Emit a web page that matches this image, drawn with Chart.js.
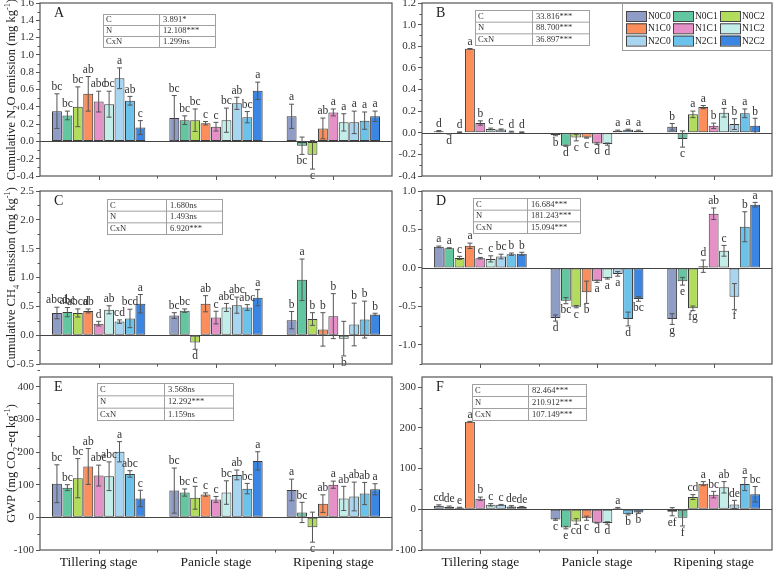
<!DOCTYPE html>
<html lang="en">
<head>
<meta charset="UTF-8">
<title>Cumulative N2O, CH4 emission and GWP</title>
<script src="https://cdn.jsdelivr.net/npm/chart.js"></script>
<style>
  body { margin: 0; background: #fff; }
  #wrap { position: relative; width: 774px; height: 569px; overflow: hidden; }
  #wrap canvas { position: absolute; }
</style>
</head>
<body>
<div id="wrap">
  <canvas id="cA"></canvas>
  <canvas id="cB"></canvas>
  <canvas id="cC"></canvas>
  <canvas id="cD"></canvas>
  <canvas id="cE"></canvas>
  <canvas id="cF"></canvas>
</div>
<script>
// ---- data (rows = stage, columns = treatment) ----
const stages = ['Tillering stage', 'Panicle stage', 'Ripening stage'];
const treatments = ['N0C0', 'N0C1', 'N0C2', 'N1C0', 'N1C1', 'N1C2', 'N2C0', 'N2C1', 'N2C2'];
const statRows = ['C', 'N', 'CxN'];

// A - cumulative N2O emission
const n2oA = [
  [0.35, 0.30, 0.40, 0.55, 0.46, 0.43, 0.73, 0.47, 0.16],
  [0.27, 0.245, 0.245, 0.21, 0.17, 0.245, 0.44, 0.28, 0.585],
  [0.29, -0.05, -0.155, 0.15, 0.335, 0.22, 0.22, 0.24, 0.29]
];
const n2oAErr = [
  [0.20, 0.05, 0.23, 0.20, 0.12, 0.15, 0.12, 0.05, 0.08],
  [0.26, 0.05, 0.13, 0.02, 0.05, 0.14, 0.07, 0.065, 0.10],
  [0.14, 0.10, 0.165, 0.12, 0.04, 0.10, 0.13, 0.10, 0.06]
];
const n2oALetters = [
  ['bc', 'bc', 'bc', 'ab', 'abc', 'bc', 'a', 'ab', 'c'],
  ['bc', 'bc', 'bc', 'c', 'c', 'bc', 'ab', 'bc', 'a'],
  ['a', 'bc', 'c', 'ab', 'a', 'a', 'a', 'a', 'a']
];
const n2oAStats = ['3.891*', '12.108***', '1.299ns'];
const n2oATicks = [-0.4, -0.2, 0, 0.2, 0.4, 0.6, 0.8, 1.0, 1.2, 1.4, 1.6];

// B - cumulative N2O emission
const n2oB = [
  [0.015, -0.01, 0.005, 0.776, 0.09, 0.035, 0.03, 0.01, 0.005],
  [-0.02, -0.12, -0.045, -0.045, -0.10, -0.105, 0.018, 0.027, 0.018],
  [0.055, -0.058, 0.17, 0.237, 0.064, 0.185, 0.08, 0.18, 0.064]
];
const n2oBErr = [
  [0.005, 0.003, 0.003, 0.003, 0.02, 0.008, 0.005, 0.004, 0.003],
  [0.008, 0.005, 0.03, 0.005, 0.008, 0.01, 0.006, 0.006, 0.006],
  [0.03, 0.075, 0.03, 0.015, 0.025, 0.04, 0.05, 0.04, 0.07]
];
const n2oBLetters = [
  ['d', 'd', 'd', 'a', 'b', 'c', 'c', 'd', 'd'],
  ['b', 'd', 'c', 'c', 'd', 'd', 'a', 'a', 'a'],
  ['b', 'c', 'a', 'a', 'b', 'a', 'b', 'a', 'b']
];
const n2oBStats = ['33.816***', '88.700***', '36.897***'];
const n2oBTicks = [-0.4, -0.2, 0, 0.2, 0.4, 0.6, 0.8, 1.0, 1.2];

// C - cumulative CH4 emission
const ch4C = [
  [0.385, 0.40, 0.385, 0.42, 0.20, 0.44, 0.235, 0.29, 0.545],
  [0.34, 0.425, -0.125, 0.545, 0.305, 0.48, 0.52, 0.48, 0.65],
  [0.26, 0.96, 0.28, 0.10, 0.33, -0.06, 0.185, 0.27, 0.36]
];
const ch4CErr = [
  [0.10, 0.08, 0.07, 0.035, 0.04, 0.07, 0.03, 0.16, 0.16],
  [0.05, 0.03, 0.12, 0.14, 0.11, 0.07, 0.14, 0.05, 0.14],
  [0.15, 0.36, 0.11, 0.29, 0.39, 0.30, 0.37, 0.32, 0.02]
];
const ch4CLetters = [
  ['abcd', 'abc', 'abcd', 'ab', 'd', 'ab', 'cd', 'bcd', 'a'],
  ['bc', 'bc', 'd', 'ab', 'c', 'abc', 'abc', 'abc', 'a'],
  ['b', 'a', 'b', 'b', 'b', 'b', 'b', 'b', 'b']
];
const ch4CStats = ['1.680ns', '1.493ns', '6.920***'];
const ch4CTicks = [-0.5, 0, 0.5, 1.0, 1.5, 2.0, 2.5];

// D - cumulative CH4 emission
const ch4D = [
  [0.274, 0.257, 0.13, 0.287, 0.126, 0.117, 0.148, 0.178, 0.183],
  [-0.652, -0.426, -0.504, -0.317, -0.174, -0.135, -0.078, -0.665, -0.404],
  [-0.665, -0.174, -0.526, 0.022, 0.704, 0.222, -0.374, 0.535, 0.822]
];
const ch4DErr = [
  [0.01, 0.005, 0.02, 0.035, 0.01, 0.04, 0.03, 0.015, 0.02],
  [0.04, 0.04, 0.015, 0.145, 0.015, 0.01, 0.03, 0.09, 0.03],
  [0.07, 0.05, 0.03, 0.08, 0.075, 0.07, 0.17, 0.195, 0.03]
];
const ch4DLetters = [
  ['a', 'a', 'c', 'a', 'c', 'c', 'bc', 'b', 'b'],
  ['d', 'bc', 'c', 'b', 'a', 'a', 'a', 'd', 'bc'],
  ['g', 'e', 'fg', 'd', 'ab', 'c', 'f', 'b', 'a']
];
const ch4DStats = ['16.684***', '181.243***', '15.094***'];
const ch4DTicks = [-1.0, -0.5, 0, 0.5, 1.0];

// E - GWP
const gwpE = [
  [103, 91, 120, 156, 128, 126, 201, 133, 58],
  [82, 76, 60, 70, 55, 76, 130, 88, 173],
  [84, 15, -30, 42, 100, 58, 64, 73, 86]
];
const gwpEErr = [
  [58, 9, 60, 55, 32, 44, 31, 10, 25],
  [69, 11, 35, 5, 9, 36, 15, 16, 28],
  [33, 31, 46, 27, 11, 37, 44, 34, 17]
];
const gwpELetters = [
  ['bc', 'bc', 'bc', 'ab', 'abc', 'abc', 'a', 'abc', 'c'],
  ['bc', 'bc', 'c', 'c', 'c', 'bc', 'ab', 'bc', 'a'],
  ['a', 'bc', 'c', 'ab', 'a', 'ab', 'ab', 'ab', 'a']
];
const gwpEStats = ['3.568ns', '12.292***', '1.159ns'];
const gwpETicks = [-100, 0, 100, 200, 300, 400];

// F - GWP
const gwpF = [
  [9, 6, 4, 215, 26, 11, 11, 7, 6],
  [-25, -45, -30, -22, -33, -33.6, 2.5, -12, -8],
  [-6, -21, 30, 63, 36, 54, 12, 62, 37]
];
const gwpFErr = [
  [2, 2, 1, 1, 4, 3, 1, 2, 1],
  [2, 3, 7, 5, 1, 3, 2, 2, 2],
  [10, 20, 6, 5, 8, 14, 10, 16, 19]
];
const gwpFLetters = [
  ['cd', 'de', 'e', 'a', 'b', 'c', 'c', 'de', 'de'],
  ['c', 'e', 'cd', 'c', 'd', 'd', 'a', 'b', 'b'],
  ['ef', 'f', 'cd', 'a', 'bc', 'ab', 'de', 'a', 'bc']
];
const gwpFStats = ['82.464***', '210.912***', '107.149***'];
const gwpFTicks = [-100, 0, 100, 200, 300];

// ---- styling ----
const SERIF = '"Liberation Serif", "Times New Roman", serif';
const colors = ['#8E9CC6', '#62C6A0', '#B2DC5B', '#FB8E5B', '#E591C8', '#C3EDE9', '#A8D5F0', '#6BC3EC', '#3B86E3'];

const titleN2O = [['Cumulative N', 0], ['2', -1], ['O emission (mg kg', 0], ['-1', 1], [')', 0]];
const titleCH4 = [['Cumulative CH', 0], ['4', -1], [' emission (mg kg', 0], ['-1', 1], [')', 0]];
const titleGWP = [['GWP (mg CO', 0], ['2', -1], ['-eq kg', 0], ['-1', 1], [')', 0]];

// canvas: [left, top, w, h]   area: [left, top, right, bottom] (page px)
const panels = [
  { id: 'cA', tag: 'A', vals: n2oA, errs: n2oAErr, lets: n2oALetters, stats: n2oAStats, ticks: n2oATicks,
    min: -0.4, max: 1.6, minor: 0.1, dec: 1, canvas: [0, 0, 395, 182], area: [40, 3, 392, 176],
    table: [103, 14, 112, 33, 56], title: titleN2O },
  { id: 'cB', tag: 'B', vals: n2oB, errs: n2oBErr, lets: n2oBLetters, stats: n2oBStats, ticks: n2oBTicks,
    min: -0.4, max: 1.2, minor: 0.1, dec: 1, canvas: [394, 0, 380, 182], area: [422, 3, 772, 176],
    table: [475, 10, 114, 35, 57], legend: true },
  { id: 'cC', tag: 'C', vals: ch4C, errs: ch4CErr, lets: ch4CLetters, stats: ch4CStats, ticks: ch4CTicks,
    min: -0.5, max: 2.5, minor: 0.25, dec: 1, canvas: [0, 180, 395, 200], area: [40, 191, 392, 364],
    table: [107, 199, 115, 35, 59], title: titleCH4 },
  { id: 'cD', tag: 'D', vals: ch4D, errs: ch4DErr, lets: ch4DLetters, stats: ch4DStats, ticks: ch4DTicks,
    min: -1.25, max: 1.0, minor: 0.25, dec: 1, canvas: [394, 180, 380, 200], area: [422, 191, 772, 364],
    table: [473, 198, 107, 35, 54] },
  { id: 'cE', tag: 'E', vals: gwpE, errs: gwpEErr, lets: gwpELetters, stats: gwpEStats, ticks: gwpETicks,
    min: -100, max: 430, minor: 50, dec: 0, canvas: [0, 368, 395, 201], area: [40, 377, 392, 550],
    table: [97, 383, 136, 37, 67], title: titleGWP, xLabels: true },
  { id: 'cF', tag: 'F', vals: gwpF, errs: gwpFErr, lets: gwpFLetters, stats: gwpFStats, ticks: gwpFTicks,
    min: -100, max: 325, minor: 50, dec: 0, canvas: [394, 368, 380, 201], area: [422, 377, 772, 550],
    table: [472, 384, 114, 36, 56], xLabels: true }
];

function line(ctx, x1, y1, x2, y2) {
  ctx.beginPath(); ctx.moveTo(x1, y1); ctx.lineTo(x2, y2); ctx.stroke();
}

function drawTitle(ctx, segs, cx, cy, size) {
  const big = size + 'px ' + SERIF, small = (size * 0.68).toFixed(1) + 'px ' + SERIF;
  ctx.save();
  ctx.translate(cx, cy);
  ctx.rotate(-Math.PI / 2);
  let total = 0;
  segs.forEach(s => { ctx.font = s[1] ? small : big; total += ctx.measureText(s[0]).width; });
  let px = -total / 2;
  ctx.textAlign = 'left';
  ctx.textBaseline = 'alphabetic';
  ctx.fillStyle = '#222';
  segs.forEach(s => {
    ctx.font = s[1] ? small : big;
    const dy = s[1] === -1 ? size * 0.25 : (s[1] === 1 ? -size * 0.42 : 0);
    ctx.fillText(s[0], px, size * 0.35 + dy);
    px += ctx.measureText(s[0]).width;
  });
  ctx.restore();
}

// error bars, letters, frame, minor ticks, inset table, legend
const deco = {
  id: 'deco',
  afterDatasetsDraw(chart, args, o) {
    const ctx = chart.ctx, a = chart.chartArea, y = chart.scales.y;
    ctx.save();
    ctx.strokeStyle = '#444';
    ctx.lineWidth = 1;
    const zy = Math.round(y.getPixelForValue(0)) + 0.5;
    line(ctx, a.left, zy, a.right, zy);

    ctx.font = '11.5px ' + SERIF;
    ctx.textAlign = 'center';
    chart.data.datasets.forEach((ds, i) => {
      chart.getDatasetMeta(i).data.forEach((bar, j) => {
        const v = ds.data[j], e = ds.errors[j];
        const top = y.getPixelForValue(v + e), bot = y.getPixelForValue(v - e);
        ctx.strokeStyle = '#555';
        line(ctx, bar.x, top, bar.x, bot);
        line(ctx, bar.x - 2.5, top, bar.x + 2.5, top);
        line(ctx, bar.x - 2.5, bot, bar.x + 2.5, bot);
        ctx.fillStyle = '#333';
        if (v >= 0) {
          ctx.textBaseline = 'bottom';
          ctx.fillText(ds.letters[j], bar.x, top - 1);
        } else {
          ctx.textBaseline = 'top';
          ctx.fillText(ds.letters[j], bar.x, bot + 1);
        }
      });
    });
    ctx.restore();
  },
  afterDraw(chart, args, o) {
    const ctx = chart.ctx, a = chart.chartArea, y = chart.scales.y, x = chart.scales.x;
    const ox = o.canvas[0], oy = o.canvas[1];
    ctx.save();
    ctx.strokeStyle = '#555';
    ctx.lineWidth = 1.2;
    ctx.strokeRect(a.left, a.top, a.right - a.left, a.bottom - a.top);

    // minor y ticks
    ctx.lineWidth = 1;
    const n = Math.round((o.max - o.min) / o.minor);
    for (let k = 0; k <= n; k++) {
      const v = o.min + k * o.minor;
      if (o.ticks.some(t => Math.abs(t - v) < 1e-6)) continue;
      const py = Math.round(y.getPixelForValue(v)) + 0.5;
      line(ctx, a.left - 2.5, py, a.left, py);
    }
    // x ticks: major at stage centres, minor between stages
    const cx = stages.map((s, i) => x.getPixelForValue(i));
    cx.forEach(px => line(ctx, Math.round(px) + 0.5, a.bottom, Math.round(px) + 0.5, a.bottom + 4));
    for (let i = 0; i < cx.length - 1; i++) {
      const px = Math.round((cx[i] + cx[i + 1]) / 2) + 0.5;
      line(ctx, px, a.bottom, px, a.bottom + 2.5);
    }

    // panel tag
    ctx.fillStyle = '#222';
    ctx.font = '14px ' + SERIF;
    ctx.textAlign = 'left';
    ctx.textBaseline = 'middle';
    ctx.fillText(o.tag, a.left + 14, a.top + 10);

    // inset stats table
    const [tx, ty, tw, th, td] = o.table;
    const lx = tx - ox, ly = ty - oy;
    ctx.strokeStyle = '#a0a0a0';
    ctx.fillStyle = '#fff';
    ctx.fillRect(lx, ly, tw, th);
    ctx.strokeRect(lx + 0.5, ly + 0.5, tw, th);
    line(ctx, lx + td + 0.5, ly, lx + td + 0.5, ly + th);
    for (let r = 1; r < 3; r++) line(ctx, lx, ly + th * r / 3 + 0.5, lx + tw, ly + th * r / 3 + 0.5);
    ctx.fillStyle = '#333';
    ctx.font = '8.5px ' + SERIF;
    statRows.forEach((r, k) => {
      const my = ly + th * (k + 0.5) / 3 + 0.5;
      ctx.fillText(r, lx + 3, my);
      ctx.fillText(o.stats[k], lx + td + 4, my);
    });

    // legend (panel B only)
    if (o.legend) {
      const bx = 622 - ox, by = 3 - oy;
      ctx.strokeStyle = '#999';
      ctx.strokeRect(bx + 0.5, by + 0.5, 150, 47);
      ctx.font = '9.5px ' + SERIF;
      chart.data.datasets.forEach((ds, i) => {
        const col = i % 3, row = Math.floor(i / 3);
        const sx = 626 - ox + col * 47, sy = 16 - oy + row * 12.3;
        ctx.fillStyle = ds.backgroundColor;
        ctx.fillRect(sx, sy - 5, 20, 10);
        ctx.strokeStyle = '#444';
        ctx.strokeRect(sx + 0.5, sy - 4.5, 20, 10);
        ctx.fillStyle = '#222';
        ctx.fillText(ds.label, sx + 22, sy + 0.5);
      });
    }

    // y-axis title
    if (o.title) drawTitle(ctx, o.title, 11 - ox, (a.top + a.bottom) / 2, 12.5);
    ctx.restore();
  }
};

panels.forEach(p => {
  const cv = document.getElementById(p.id);
  const [cl, ct, cw, ch] = p.canvas;
  const [al, at, ar, ab] = p.area;
  cv.width = cw; cv.height = ch;
  cv.style.left = cl + 'px'; cv.style.top = ct + 'px';
  cv.style.width = cw + 'px'; cv.style.height = ch + 'px';

  const datasets = treatments.map((t, k) => ({
    label: t,
    data: p.vals.map(row => row[k]),
    errors: p.errs.map(row => row[k]),
    letters: p.lets.map(row => row[k]),
    backgroundColor: colors[k],
    borderColor: '#3a3a3a',
    borderWidth: 1,
    borderSkipped: false,
    categoryPercentage: 0.8,
    barPercentage: 0.95
  }));

  new Chart(cv.getContext('2d'), {
    type: 'bar',
    data: { labels: stages, datasets: datasets },
    plugins: [deco],
    options: {
      responsive: false,
      animation: false,
      layout: { padding: { left: 0, top: at - ct, right: cl + cw - ar, bottom: 0 } },
      plugins: {
        legend: { display: false },
        tooltip: { enabled: false },
        deco: { tag: p.tag, stats: p.stats, table: p.table, canvas: p.canvas, legend: !!p.legend,
                title: p.title, ticks: p.ticks, min: p.min, max: p.max, minor: p.minor }
      },
      scales: {
        x: {
          grid: { display: false, drawTicks: false },
          border: { display: false },
          ticks: { display: !!p.xLabels, font: { family: SERIF, size: 13.5 }, color: '#222', padding: 4, maxRotation: 0 },
          afterFit: s => { s.height = ct + ch - ab; s.paddingLeft = 0; s.paddingRight = 0; }
        },
        y: {
          min: p.min,
          max: p.max,
          grid: { drawOnChartArea: false, drawTicks: true, tickLength: 4, color: '#555' },
          border: { display: false },
          ticks: { font: { family: SERIF, size: 11 }, color: '#333', padding: 2,
                   callback: v => v.toFixed(p.dec) },
          afterBuildTicks: s => { s.ticks = p.ticks.map(v => ({ value: v })); },
          afterFit: s => { s.width = al - cl; s.paddingTop = 0; s.paddingBottom = 0; }
        }
      }
    }
  });
});
</script>
</body>
</html>
